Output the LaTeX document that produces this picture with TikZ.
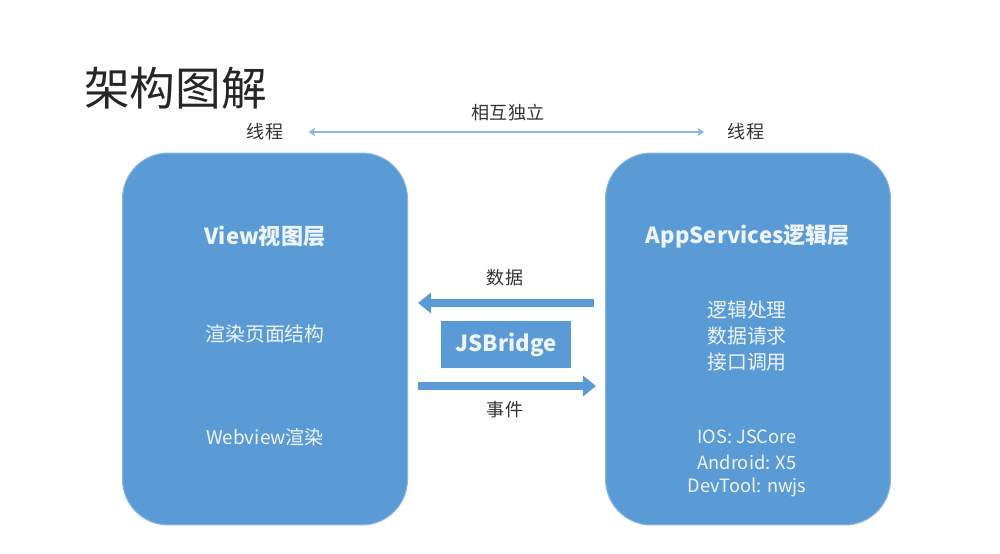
\documentclass[tikz,border=0pt]{standalone}
\usepackage{xcolor}
\usepackage{fontspec}
\setmainfont{Noto Sans CJK SC}
\usepackage{tikz}
\usetikzlibrary{arrows.meta}
\definecolor{xanh}{HTML}{5B9BD5}
\definecolor{vien}{HTML}{8CB6E2}
\definecolor{chutrang}{HTML}{EEF4FB}
\definecolor{muimong}{HTML}{8DB4E2}
\definecolor{chuxam}{HTML}{333333}

\begin{document}
\begin{tikzpicture}[x=0.02cm,y=-0.02cm,
	khoi/.style={fill=xanh,draw=vien,line width=0.6pt,rounded corners=26pt,minimum width=5.7cm,minimum height=7.44cm,inner sep=0pt},
	tieude/.style={text=chutrang,font=\fontsize{12.6}{15}\selectfont\bfseries},
	chu/.style={text=chutrang,font=\fontsize{11.3}{14}\selectfont},
	nhan/.style={text=chuxam,font=\fontsize{10.3}{12}\selectfont},
	muito/.style={draw=xanh,line width=4.8pt,-{Triangle[length=7.5pt,width=11.5pt]}}]
	\useasboundingbox (0,0) rectangle (1000,554);
	% Tieu de
	\node[anchor=west,text=black!85,font=\fontsize{26}{30}\selectfont] (title) at (78,88) {架构图解};
	% Hai luong
	\node[nhan] (tl) at (265,132) {线程};
	\node[nhan] (tr) at (746,132) {线程};
	\draw[muimong,line width=0.7pt,{Stealth[length=4pt,width=5pt]}-{Stealth[length=4pt,width=5pt]},shorten <=11pt,shorten >=10pt] (tl.east) -- (tr.west);
	\node[nhan] (indep) at (508,113) {相互独立};
	% Hai khoi
	\node[khoi] (view) at (265,339) {};
	\node[khoi] (app) at (748,339) {};
	\node[tieude] (viewname) at (265,236) {View视图层};
	\node[chu] (render) at (265,334) {渲染页面结构};
	\node[chu,font=\fontsize{10.8}{13}\selectfont] (webview) at (265,437) {Webview渲染};
	\node[tieude] (appname) at (748,236) {AppServices逻辑层};
	\foreach \t[count=\i from 0] in {逻辑处理,数据请求,接口调用}
	\node[chu] (task\i) at (747,310+26*\i) {\t};
	\foreach \t[count=\i from 0] in {IOS: JSCore,Android: X5,DevTool: nwjs}
	\node[chu,font=\fontsize{10.4}{13}\selectfont] (env\i) at (747,437+25*\i) {\t};
	% Cau noi
	\node[fill=xanh,minimum width=2.6cm,minimum height=0.94cm,inner sep=0pt,tieude] (jsb) at (506,344.5) {JSBridge};
	\coordinate (d1) at (594,303);
	\coordinate (d2) at (418,303);
	\coordinate (e1) at (418,386);
	\coordinate (e2) at (596,386);
	\draw[muito] (d1) -- (d2);
	\draw[muito] (e1) -- (e2);
	\node[nhan] (data) at (505,278) {数据};
	\node[nhan] (event) at (505,410) {事件};
\end{tikzpicture}
\end{document}
